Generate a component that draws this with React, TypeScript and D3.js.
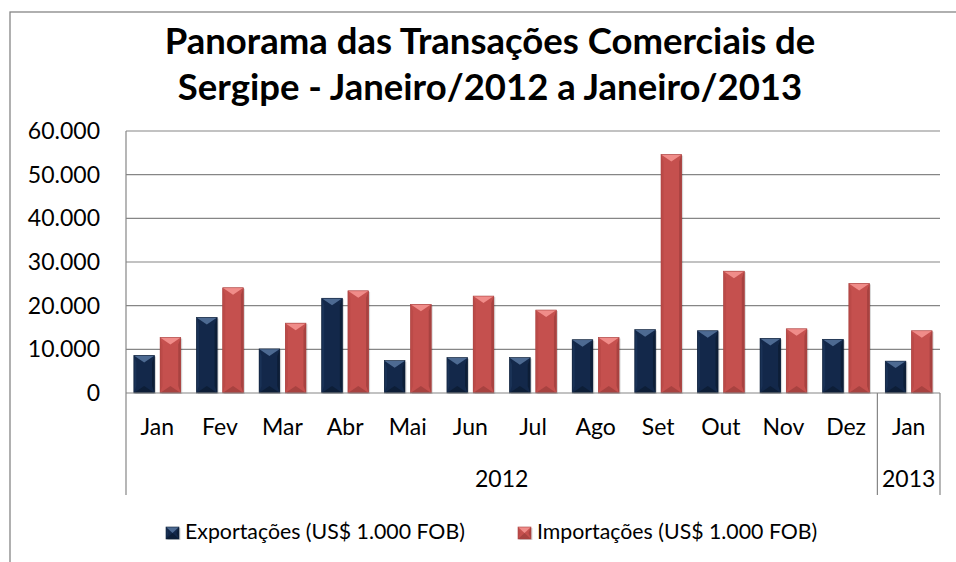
import * as d3 from 'd3';

const months = ['Jan', 'Fev', 'Mar', 'Abr', 'Mai', 'Jun', 'Jul', 'Ago', 'Set', 'Out', 'Nov', 'Dez', 'Jan'];
const years = [
  { label: '2012', count: 12 },
  { label: '2013', count: 1 },
];
const exportacoes = [8600, 17300, 10100, 21700, 7400, 8100, 8100, 12200, 14500, 14250, 12500, 12300, 7300];
const importacoes = [12700, 24100, 16000, 23400, 20300, 22200, 19000, 12700, 54600, 27900, 14700, 25100, 14250];
const yTicks = [0, 10000, 20000, 30000, 40000, 50000, 60000];
const seriesNames = ['Exportações (US$ 1.000 FOB)', 'Importações (US$ 1.000 FOB)'];
const titleLines = ['Panorama das Transações Comerciais de', 'Sergipe - Janeiro/2012 a Janeiro/2013'];

const W = 956;
const H = 562;
const plot = { left: 126, right: 940, top: 131, bottom: 393 };
const font = 'Lato, Calibri, Carlito, sans-serif';

const palette = [
  { base: '#13284a', light: '#4d6a92', dark: '#0d1e37', edge: '#1a3256' },
  { base: '#c5504e', light: '#f08c89', dark: '#a84240', edge: '#bb4a48' },
];

const fmt = (v: number) => (v === 0 ? '0' : d3.format(',')(v).replace(/,/g, '.'));

const BevelBar = ({ x, y, w, h, c }: { x: number; y: number; w: number; h: number; c: (typeof palette)[0] }) => {
  const b = Math.min(7, h / 2);
  const s = Math.min(2.5, w / 5);
  return (
    <g>
      <rect x={x + 1.5} y={y + 1} width={w} height={h} fill="#000" opacity={0.15} />
      <rect x={x} y={y} width={w} height={h} fill={c.base} />
      <polygon points={`${x},${y} ${x + s},${y + b} ${x + s},${y + h - b} ${x},${y + h}`} fill={c.edge} />
      <polygon points={`${x + w},${y} ${x + w - s},${y + b} ${x + w - s},${y + h - b} ${x + w},${y + h}`} fill={c.dark} />
      <polygon points={`${x},${y} ${x + w},${y} ${x + w / 2},${y + b}`} fill={c.light} />
      <polygon points={`${x},${y + h} ${x + w},${y + h} ${x + w / 2},${y + h - b}`} fill={c.dark} />
      <rect x={x} y={y} width={w} height={h} fill="none" stroke={c.dark} strokeWidth={0.6} />
    </g>
  );
};

export default function App() {
  const x = d3
    .scaleBand<number>()
    .domain(d3.range(months.length))
    .range([plot.left, plot.right]);
  const inner = d3
    .scaleBand<number>()
    .domain([0, 1])
    .range([0, x.bandwidth()])
    .paddingInner(0.213)
    .paddingOuter(0.3);
  const y = d3.scaleLinear().domain([0, 60000]).range([plot.bottom, plot.top]);

  const series = [exportacoes, importacoes];
  const axisBottom = 495;

  // year group boundaries
  let acc = 0;
  const groups = years.map((g) => {
    const start = acc;
    acc += g.count;
    return { ...g, x0: x(start)!, x1: start + g.count >= months.length ? plot.right : x(start + g.count)! };
  });

  const legendX = [166, 518];

  return (
    <svg width={W} height={H} style={{ position: 'absolute', left: 0, top: 0, background: '#fff' }} fontFamily={font}>
      <rect x={10} y={12} width={W + 20} height={H + 20} fill="#fff" stroke="#868686" strokeWidth={1.3} />

      {titleLines.map((t, i) => (
        <text key={i} x={490} y={54 + i * 46} textAnchor="middle" fontSize={36.5} fontWeight="bold" fill="#000">
          {t}
        </text>
      ))}

      {yTicks.map((t) => (
        <g key={t}>
          {t > 0 && <line x1={plot.left} x2={plot.right} y1={y(t)} y2={y(t)} stroke="#868686" strokeWidth={1.2} />}
          <text x={100} y={y(t) + 8} textAnchor="end" fontSize={23} fill="#000">
            {fmt(t)}
          </text>
        </g>
      ))}

      {series.map((vals, si) =>
        vals.map((v, i) => {
          const bx = x(i)! + inner(si)!;
          const by = y(v);
          return <BevelBar key={`${si}-${i}`} x={bx} y={by} w={inner.bandwidth()} h={plot.bottom - by} c={palette[si]} />;
        }),
      )}

      <line x1={plot.left} x2={plot.right} y1={plot.bottom} y2={plot.bottom} stroke="#868686" strokeWidth={1.2} />
      <line x1={plot.left} x2={plot.left} y1={plot.top} y2={axisBottom} stroke="#868686" strokeWidth={1.2} />
      {groups.map((g) => (
        <line key={g.label} x1={g.x1} x2={g.x1} y1={plot.bottom} y2={axisBottom} stroke="#868686" strokeWidth={1.2} />
      ))}

      {months.map((m, i) => (
        <text key={i} x={x(i)! + x.bandwidth() / 2} y={435} textAnchor="middle" fontSize={23} fill="#000">
          {m}
        </text>
      ))}
      {groups.map((g) => (
        <text key={g.label} x={(g.x0 + g.x1) / 2} y={487} textAnchor="middle" fontSize={23} fill="#000">
          {g.label}
        </text>
      ))}

      {seriesNames.map((n, i) => (
        <g key={n}>
          <BevelBar x={legendX[i]} y={527} w={13} h={12} c={palette[i]} />
          <text x={legendX[i] + 19} y={539} fontSize={21.3} fill="#000">
            {n}
          </text>
        </g>
      ))}
    </svg>
  );
}
